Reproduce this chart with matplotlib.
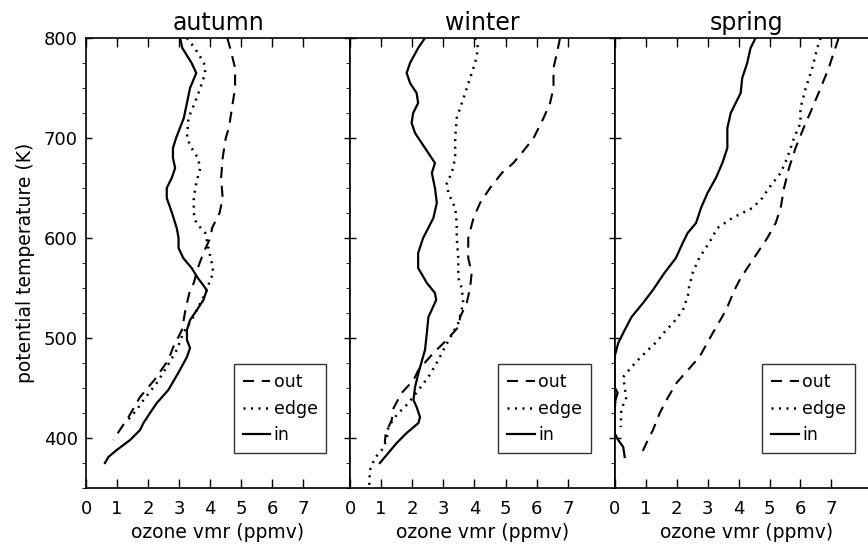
import matplotlib
matplotlib.use("Agg")
import matplotlib.pyplot as plt
from matplotlib.ticker import MultipleLocator

plt.rcParams["font.family"] = "DejaVu Sans"

seasons = ["autumn", "winter", "spring"]
labels = ["out", "edge", "in"]

# autumn profiles: potential temperature (K) and ozone vmr (ppmv)
autumn_out_theta = [800, 790, 770, 750, 730, 710, 700, 680, 660, 640, 625, 610, 600, 585, 570, 555, 548,
                    528, 508, 491, 478, 458, 441, 421, 401, 398]
autumn_out_o3 = [4.55, 4.64, 4.8, 4.8, 4.7, 4.6, 4.5, 4.4, 4.35, 4.4, 4.3, 4.06, 4.0, 3.78, 3.6, 3.47, 3.35,
                 3.2, 3.09, 2.81, 2.65, 2.2, 1.74, 1.37, 0.94, 0.88]
autumn_edge_theta = [800, 790, 775, 765, 750, 735, 720, 700, 690, 680, 670, 655, 640, 625, 615, 605, 590,
                     575, 565, 558, 545, 530, 518, 505, 488, 471, 455, 438, 428, 418]
autumn_edge_o3 = [3.25, 3.5, 3.8, 3.84, 3.68, 3.5, 3.3, 3.25, 3.4, 3.6, 3.68, 3.55, 3.47, 3.47, 3.55, 3.84,
                  3.94, 4.05, 4.1, 4.0, 3.85, 3.6, 3.4, 3.13, 2.92, 2.6, 2.28, 1.85, 1.63, 1.35]
autumn_in_theta = [800, 790, 775, 765, 750, 720, 700, 690, 680, 670, 660, 650, 640, 625, 610, 600, 590, 580,
                   570, 560, 548, 538, 528, 518, 508, 498, 490, 481, 465, 448, 435, 425, 415, 408, 398, 388,
                   381, 375]
autumn_in_o3 = [3.03, 3.1, 3.4, 3.55, 3.35, 3.15, 2.9, 2.8, 2.8, 2.87, 2.76, 2.6, 2.6, 2.77, 2.92, 2.98,
                2.98, 3.13, 3.4, 3.6, 3.89, 3.78, 3.57, 3.35, 3.25, 3.25, 3.35, 3.25, 2.97, 2.65, 2.28, 2.06,
                1.85, 1.74, 1.42, 0.99, 0.72, 0.61]

# winter profiles
winter_out_theta = [800, 785, 770, 750, 735, 720, 700, 685, 675, 665, 650, 635, 620, 600, 580, 565, 550,
                    535, 521, 511, 498, 485, 468, 458, 445, 430, 418, 405, 396]
winter_out_o3 = [6.75, 6.65, 6.54, 6.54, 6.43, 6.22, 5.9, 5.52, 5.25, 4.88, 4.5, 4.18, 3.97, 3.8, 3.8, 3.91,
                 3.86, 3.75, 3.54, 3.48, 3.11, 2.68, 2.2, 2.04, 1.66, 1.4, 1.34, 1.15, 1.12]
winter_edge_theta = [800, 790, 775, 760, 740, 720, 700, 680, 665, 655, 645, 630, 615, 600, 580, 560, 550,
                     535, 515, 491, 478, 461, 448, 435, 423, 411, 398, 388, 380, 368, 353]
winter_edge_o3 = [4.02, 4.12, 4.02, 3.86, 3.65, 3.43, 3.38, 3.38, 3.27, 3.11, 3.16, 3.38, 3.43, 3.43, 3.48,
                  3.48, 3.59, 3.64, 3.48, 3.05, 2.84, 2.52, 2.2, 1.88, 1.5, 1.23, 1.18, 1.02, 0.8, 0.64, 0.62]
winter_in_theta = [800, 790, 775, 765, 755, 745, 735, 725, 715, 705, 690, 675, 665, 650, 635, 620, 600, 585,
                   570, 555, 545, 538, 521, 505, 488, 476, 465, 451, 438, 431, 421, 415, 405, 395, 385, 375]
winter_in_o3 = [2.41, 2.19, 1.93, 1.82, 1.93, 2.14, 2.19, 2.03, 1.98, 2.09, 2.41, 2.73, 2.63, 2.73, 2.79,
                2.68, 2.35, 2.19, 2.19, 2.47, 2.73, 2.77, 2.52, 2.47, 2.41, 2.3, 2.2, 2.09, 2.04, 2.14, 2.25,
                2.2, 1.82, 1.5, 1.23, 0.96]

# spring profiles
spring_out_theta = [800, 785, 770, 750, 730, 710, 690, 670, 650, 630, 615, 600, 580, 560, 548, 528, 505,
                    481, 466, 455, 441, 425, 408, 395, 380]
spring_out_o3 = [7.23, 7.07, 6.91, 6.65, 6.38, 6.1, 5.84, 5.63, 5.47, 5.36, 5.2, 4.93, 4.5, 4.07, 3.87, 3.6,
                 3.17, 2.74, 2.31, 2.0, 1.73, 1.46, 1.24, 1.03, 0.81]
spring_edge_theta = [800, 790, 770, 750, 730, 715, 700, 680, 665, 650, 640, 630, 620, 610, 595, 580, 565,
                     550, 543, 528, 515, 508, 496, 488, 478, 471, 461, 451, 438, 430, 411]
spring_edge_o3 = [6.65, 6.54, 6.38, 6.17, 6.0, 6.0, 5.79, 5.57, 5.36, 4.98, 4.77, 4.45, 3.8, 3.32, 3.05,
                  2.73, 2.52, 2.4, 2.37, 2.21, 1.89, 1.67, 1.35, 1.08, 0.76, 0.55, 0.28, 0.33, 0.38, 0.22,
                  0.2]
spring_in_theta = [800, 790, 775, 760, 745, 735, 725, 710, 690, 675, 660, 645, 630, 615, 605, 595, 580,
                   565, 548, 535, 521, 508, 495, 481, 465, 451, 445, 438, 425, 405, 398, 391, 381]
spring_in_o3 = [4.55, 4.39, 4.28, 4.12, 4.07, 3.91, 3.75, 3.64, 3.64, 3.48, 3.27, 3.0, 2.79, 2.63, 2.36, 2.2,
                1.98, 1.61, 1.24, 0.92, 0.55, 0.33, 0.12, 0.0, 0.0, 0.0, 0.1, 0.03, 0.0, 0.0, 0.12, 0.28,
                0.33]

profiles = {
    "autumn": [(autumn_out_o3, autumn_out_theta), (autumn_edge_o3, autumn_edge_theta),
               (autumn_in_o3, autumn_in_theta)],
    "winter": [(winter_out_o3, winter_out_theta), (winter_edge_o3, winter_edge_theta),
               (winter_in_o3, winter_in_theta)],
    "spring": [(spring_out_o3, spring_out_theta), (spring_edge_o3, spring_edge_theta),
               (spring_in_o3, spring_in_theta)],
}

styles = [
    dict(linestyle=(0, (5.3, 3.7)), linewidth=1.5),
    dict(linestyle=(0, (0.8, 2.2)), linewidth=1.8),
    dict(linestyle="-", linewidth=1.6),
]

W, H = 868, 544
fig = plt.figure(figsize=(W / 100, H / 100), dpi=100)

# panels sit edge to edge, the last one runs past the right border
edges = [86, 350, 614.5, 878]
for i, season in enumerate(seasons):
    ax = fig.add_axes([edges[i] / W, (H - 488) / H, (edges[i + 1] - edges[i]) / W, 450 / H])
    for (o3, theta), st, lab in zip(profiles[season], styles, labels):
        ax.plot(o3, theta, color="black", label=lab, **st)
    ax.set_xlim(0, 8.5)
    ax.set_ylim(350, 800)
    ax.set_xticks(range(0, 8))
    ax.yaxis.set_major_locator(MultipleLocator(100))
    ax.yaxis.set_minor_locator(MultipleLocator(25))
    ax.tick_params(direction="in", top=True, right=True, labelsize=13, width=1, color="black")
    ax.tick_params(axis="x", which="major", length=6.5, pad=9)
    ax.tick_params(axis="y", which="major", length=4.5, pad=6)
    ax.tick_params(axis="y", which="minor", length=3)
    if i > 0:
        ax.tick_params(axis="y", labelleft=False)
    else:
        ax.set_ylabel("potential temperature (K)", fontsize=13.5, labelpad=6)
    for sp in ax.spines.values():
        sp.set_linewidth(1.2)
    ax.set_xlabel("ozone vmr (ppmv)", fontsize=13.5, labelpad=3)
    ax.set_title(season, fontsize=17, pad=6)
    leg = ax.legend(loc="upper left", bbox_to_anchor=(0.56, 0.275), fontsize=12.5, frameon=True,
                    fancybox=False, handlelength=1.6, handletextpad=0.2, labelspacing=0.5,
                    borderpad=0.5, borderaxespad=0)
    leg.get_frame().set_edgecolor("black")
    leg.get_frame().set_linewidth(1.0)

fig.savefig("out.png", dpi=100)
